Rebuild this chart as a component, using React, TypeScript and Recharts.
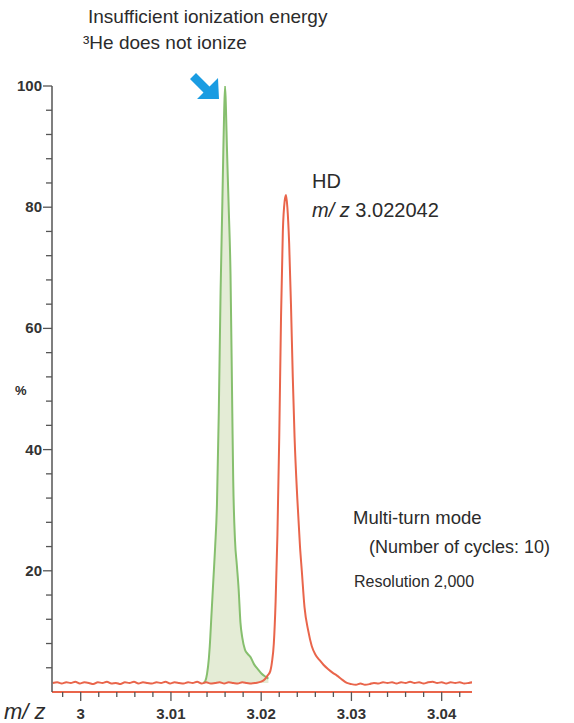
import React from 'react';
import { ComposedChart, Area, Line, XAxis, YAxis } from 'recharts';

// m/z grid + intensity (%)
const redMz = [
  2.9969, 2.9974, 2.9979, 2.9984, 2.9989, 2.9994, 2.9999, 3.0004, 3.0009, 3.0014,
  3.0019, 3.0024, 3.0029, 3.0034, 3.0039, 3.0044, 3.0049, 3.0054, 3.0059, 3.0064,
  3.0069, 3.0074, 3.0079, 3.0084, 3.0089, 3.0094, 3.0099, 3.0104, 3.0109, 3.0114,
  3.0119, 3.0124, 3.0129, 3.0134, 3.0139, 3.0144, 3.0149, 3.0154, 3.0159, 3.0164,
  3.0169, 3.0174, 3.0179, 3.0184, 3.0189, 3.0194, 3.02, 3.0204, 3.0207, 3.021,
  3.0212, 3.0214, 3.0216, 3.0218, 3.022, 3.0222, 3.0224, 3.0226, 3.02275, 3.0229,
  3.0231, 3.0233, 3.0235, 3.0237, 3.024, 3.0243, 3.0245, 3.0248, 3.0252, 3.0256,
  3.026, 3.0265, 3.0269, 3.0274, 3.0279, 3.0284, 3.029, 3.0295, 3.03, 3.0305,
  3.031, 3.0315, 3.032, 3.0325, 3.033, 3.0335, 3.034, 3.0345, 3.035, 3.0355,
  3.036, 3.0365, 3.037, 3.0375, 3.038, 3.0385, 3.039, 3.0395, 3.04, 3.0405,
  3.041, 3.0415, 3.042, 3.0425, 3.043, 3.0434,
];
const redPct = [
  1.5, 1.6, 1.4, 1.6, 1.5, 1.7, 1.4, 1.6, 1.5, 1.3,
  1.6, 1.5, 1.7, 1.4, 1.5, 1.3, 1.6, 1.5, 1.7, 1.4,
  1.6, 1.5, 1.4, 1.6, 1.5, 1.7, 1.4, 1.6, 1.5, 1.4,
  1.6, 1.5, 1.7, 1.4, 1.6, 1.4, 1.5, 1.6, 1.4, 1.6,
  1.5, 1.4, 1.6, 1.5, 1.4, 1.5, 1.7, 2.1, 2.7, 3.4,
  5.0, 8.0, 15, 26, 42, 62, 76, 81, 82, 80,
  74, 64, 52, 42, 32, 24, 20, 14, 10.2, 7.6,
  6.2, 5.2, 4.5, 3.8, 3.2, 2.7, 2.0, 1.5, 1.3, 1.2,
  1.4, 1.2, 1.3, 1.5, 1.4, 1.6, 1.5, 1.6, 1.4, 1.6,
  1.5, 1.7, 1.5, 1.6, 1.4, 1.6, 1.7, 1.5, 1.6, 1.4,
  1.6, 1.5, 1.6, 1.4, 1.5, 1.6,
];

const greenMz = [
  3.0136, 3.0138, 3.014, 3.0142, 3.0143, 3.0145, 3.0147, 3.0149, 3.0151, 3.0153,
  3.0155, 3.0157, 3.0158, 3.0159, 3.016, 3.0161, 3.0162, 3.0164, 3.0166, 3.0168,
  3.0169, 3.0171, 3.0173, 3.0175, 3.0177, 3.0179, 3.0182, 3.0185, 3.0188, 3.0192,
  3.0196, 3.02, 3.0204, 3.0208,
];
const greenPct = [
  1.5, 1.8, 3.0, 5.5, 7.5, 13, 18.5, 24, 31, 46,
  66, 81, 89, 96, 100, 96, 90, 80, 69, 46,
  35, 25, 21, 17, 11.5, 9, 7.0, 6.3, 5.8, 4.6,
  3.8, 3.1, 2.6, 2.2,
];

const xTicks = [
  2.998, 3, 3.002, 3.004, 3.006, 3.008, 3.01, 3.012, 3.014, 3.016, 3.018,
  3.02, 3.022, 3.024, 3.026, 3.028, 3.03, 3.032, 3.034, 3.036, 3.038, 3.04, 3.042,
];
const xLabels: Record<string, string> = { '3': '3', '3.01': '3.01', '3.02': '3.02', '3.03': '3.03', '3.04': '3.04' };
const yTicks = [4, 8, 12, 16, 20, 24, 28, 32, 36, 40, 44, 48, 52, 56, 60, 64, 68, 72, 76, 80, 84, 88, 92, 96, 100];
const yLabels = [20, 40, 60, 80, 100];

const redData = redMz.map((mz, i) => ({ mz, pct: redPct[i] }));
const greenData = greenMz.map((mz, i) => ({ mz, pct: greenPct[i] }));

const FONT = '"Liberation Sans", Arial, Helvetica, sans-serif';
const RED = '#e9654b';
const GREEN = '#86bf6e';
const AXIS = '#555';

const XTick = (props: any) => {
  const { x, y, payload } = props;
  const label = xLabels[String(payload.value)];
  return (
    <g>
      <line x1={x} x2={x} y1={y} y2={y + (label ? 9 : 5)} stroke={AXIS} strokeWidth={1.3} />
      {label && (
        <text x={x} y={y + 27} textAnchor="middle" fontFamily={FONT} fontWeight="bold" fontSize={15} fill="#333">
          {label}
        </text>
      )}
    </g>
  );
};

const YTick = (props: any) => {
  const { x, y, payload } = props;
  const major = yLabels.includes(payload.value);
  return (
    <g>
      <line x1={x} x2={x - (major ? 9 : 6)} y1={y} y2={y} stroke={AXIS} strokeWidth={1.3} />
      {major && (
        <text x={x - 10} y={y + 5} textAnchor="end" fontFamily={FONT} fontWeight="bold" fontSize={15} fill="#333">
          {payload.value}
        </text>
      )}
    </g>
  );
};

export default function App() {
  return (
    <div style={{ position: 'absolute', left: 0, top: 0, width: 574, height: 723, background: '#fff' }}>
      <ComposedChart width={574} height={723} margin={{ top: 86, right: 102, bottom: 0, left: 0 }}>
        <XAxis
          dataKey="mz"
          type="number"
          domain={[2.99682, 3.04336]}
          allowDataOverflow
          ticks={xTicks}
          interval={0}
          tickSize={0}
          tickMargin={0}
          tick={<XTick />}
          height={31}
          axisLine={{ stroke: RED, strokeWidth: 2 }}
        />
        <YAxis
          type="number"
          domain={[0, 100]}
          allowDataOverflow
          ticks={yTicks}
          interval={0}
          tickSize={0}
          tickMargin={0}
          tick={<YTick />}
          width={52}
          axisLine={{ stroke: AXIS, strokeWidth: 1.5 }}
        />
        <Area
          data={greenData}
          dataKey="pct"
          type="monotone"
          baseValue={1.5}
          stroke={GREEN}
          strokeWidth={2}
          fill="#dfe9cf"
          fillOpacity={0.85}
          isAnimationActive={false}
          dot={false}
          activeDot={false}
        />
        <Line
          data={redData}
          dataKey="pct"
          type="monotone"
          stroke={RED}
          strokeWidth={2}
          dot={false}
          activeDot={false}
          isAnimationActive={false}
        />
      </ComposedChart>
      <svg width={574} height={723} style={{ position: 'absolute', left: 0, top: 0, pointerEvents: 'none' }}>
        <g fontFamily={FONT} fill="#2b2b2b">
          <text x={88} y={23} fontSize={19}>Insufficient ionization energy</text>
          <text x={83} y={49} fontSize={19}>³He does not ionize</text>
          <text x={312} y={188} fontSize={20}>HD</text>
          <text x={312} y={217} fontSize={20}>
            <tspan fontStyle="italic">m/ z</tspan> 3.022042
          </text>
          <text x={353} y={524} fontSize={18.5}>Multi-turn mode</text>
          <text x={369} y={553} fontSize={18}>(Number of cycles: 10)</text>
          <text x={354} y={587} fontSize={16}>Resolution 2,000</text>
          <text x={15} y={395} fontSize={13} fontWeight="bold">%</text>
          <text x={4} y={719} fontSize={22} fontStyle="italic">m/ z</text>
        </g>
        <polygon
          points="219,99 197,99 203.5,92.5 190,79 196,73 209.5,86.5 218,78"
          fill="#1a9ce2"
        />
      </svg>
    </div>
  );
}
